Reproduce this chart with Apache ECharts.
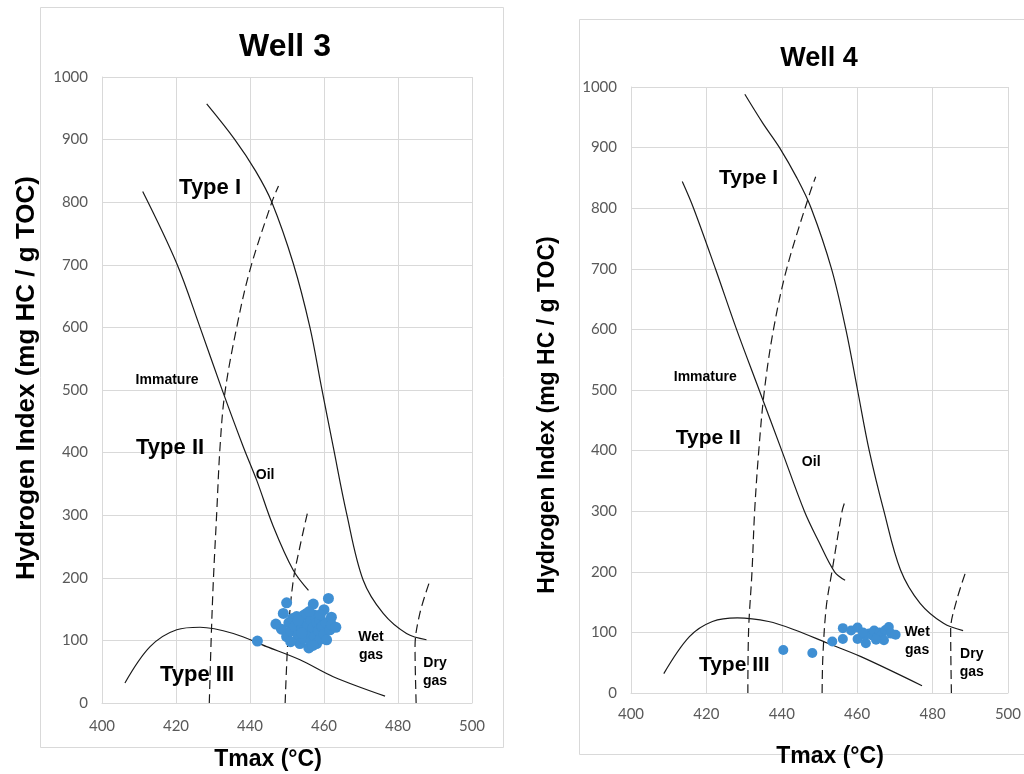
<!DOCTYPE html>
<html><head><meta charset="utf-8">
<script src="https://cdn.jsdelivr.net/npm/echarts@6/dist/echarts.min.js"></script>
<style>html,body{margin:0;background:#fff}#c{width:1024px;height:774px}</style>
</head><body><div id="c"></div>
<script>
// Well 3 curves (Tmax, HI)
const w3TypeI=[[428.3,957],[435.9,900],[441.5,850],[445.9,800],[451.7,702],[456.2,600],[459.3,505],[462.5,409],[466.1,303],[470.6,196],[476,143],[482.3,111],[487.7,101]];
const w3TypeII=[[411,817],[420.2,702],[426.5,600],[432.3,503],[438.2,409],[441.8,356],[446.3,282],[451.7,212],[455.8,180]];
const w3TypeIII=[[406.2,32],[413,90],[420.2,117],[426.5,121],[435.5,111],[444.5,90],[453.5,69],[462.5,42],[476.5,11]];
const w3Oil=[[429,0],[429.5,101],[430.1,196],[431,303],[431.9,409],[433.2,495],[436.4,600],[440,692],[445.9,800],[447.7,826]];
const w3Wet=[[449.5,0],[450.4,117],[451.7,196],[453.5,250],[455.5,303]];
const w3Dry=[[484.9,0],[484.6,90],[485.9,143],[488.6,195]];
const w3Samples=[[442,99],[447,126],[448.5,118],[449,143],[449.9,160],[449.9,106],[450.5,128],[451,115],[451.5,135],[452,122],[452.6,138],[453,108],[453.5,95],[453.5,128],[454,118],[454.5,140],[454.5,103],[455.3,143],[455.5,125],[455.9,88],[456,112],[456.5,132],[456.5,98],[457.1,158],[457,120],[457.5,140],[457.5,106],[458,95],[458,128],[458.5,115],[458.9,133],[459,102],[459.5,122],[460,149],[460,110],[460.7,101],[460.5,128],[461.2,167],[461.6,117],[462,137],[462,125],[463.2,121],[451,98],[453,132],[456,146],[459,141],[454,112],[457,92]];
const w3TypeLabels=[[429.2,823,'Type I'],[418.4,407,'Type II'],[425.7,45,'Type III']];
const w3ZoneLabels=[[417.6,516,'Immature'],[444.1,364,'Oil'],[472.7,91,'Wet\ngas'],[490,50,'Dry\ngas']];

// Well 4 curves
const w4TypeI=[[430.2,988],[435,940],[439.4,900],[444,850],[447.8,800],[453.2,700],[457,600],[460.1,500],[463.2,400],[467.1,300],[471.5,203],[476.7,148],[482.9,115],[488.1,103]];
const w4TypeII=[[413.6,844],[416.6,800],[422.4,700],[428,600],[434,500],[440,400],[446,300],[449.8,250],[454,200],[456.8,186]];
const w4TypeIII=[[408.7,32],[415.5,93],[421.6,118],[428.2,124],[436.5,118],[443.5,104],[452.2,82],[461,60],[477.2,12]];
const w4Oil=[[431,0],[431.2,104],[432.1,200],[432.8,300],[433.9,400],[435.4,500],[437.8,600],[441.3,700],[447.4,824],[449,852]];
const w4Wet=[[450.7,0],[450.9,60],[451.8,142],[453.3,200],[456,300],[456.6,313]];
const w4Dry=[[485,0],[484.8,104],[486.4,153],[488.8,200]];
const w4Samples=[[440.4,71],[448.1,66],[453.4,85],[456.2,89],[456.2,107],[458.4,103],[460.1,108],[460.1,89],[462.3,82],[463.2,98],[464,95],[464.5,103],[465.3,92],[466,100],[466.5,96],[467.1,87],[467.5,104],[468.4,109],[469,98],[470.2,96],[462,95],[461.5,100],[465,88]];
const w4TypeLabels=[[431.2,850,'Type I'],[420.5,421,'Type II'],[427.4,46,'Type III']];
const w4ZoneLabels=[[419.7,521,'Immature'],[447.8,381,'Oil'],[475.9,86,'Wet\ngas'],[490.4,49,'Dry\ngas']];

const grid='#d9d9d9', ink='#1a1a1a', dot='#3f8fd3';
const font=s=>'bold '+s+'px "Liberation Sans", Arial, sans-serif';

function axes(i,labMargin){
  const lab={color:'#595959',fontSize:15,fontFamily:'Lato, "Open Sans", sans-serif'};
  return {
    x:{type:'value',gridIndex:i,min:400,max:500,interval:20,
      axisLine:{show:true,lineStyle:{color:grid}},axisTick:{show:false},
      splitLine:{show:true,lineStyle:{color:grid,width:1}},
      axisLabel:{...lab,margin:labMargin,formatter:v=>String(v)}},
    y:{type:'value',gridIndex:i,min:0,max:1000,interval:100,
      axisLine:{show:true,lineStyle:{color:grid}},axisTick:{show:false},
      splitLine:{show:true,lineStyle:{color:grid,width:1}},
      axisLabel:{...lab,margin:14,formatter:v=>String(v)}}
  };
}
const a3=axes(0,16), a4=axes(1,14);

function curve(i,data,dashed){
  return {type:'line',xAxisIndex:i,yAxisIndex:i,data,smooth:0.35,showSymbol:false,silent:true,
    lineStyle:{color:ink,width:1.2,type:dashed?[9,5]:'solid'},z:3};
}
function samples(i,data,size){
  return {type:'scatter',xAxisIndex:i,yAxisIndex:i,data,symbolSize:size,silent:true,
    itemStyle:{color:dot,opacity:1},z:4};
}
function labels(i,rows,size,lh){
  return {type:'scatter',xAxisIndex:i,yAxisIndex:i,symbolSize:0,silent:true,z:6,
    itemStyle:{opacity:1},
    data:rows.map(r=>({value:[r[0],r[1]],name:r[2]})),
    label:{show:true,position:[0,0],align:'center',verticalAlign:'middle',formatter:p=>p.name,
      color:'#000',opacity:1,textBorderWidth:0,
      fontFamily:'"Liberation Sans", Arial, sans-serif',fontWeight:'bold',fontSize:size,lineHeight:lh}};
}

const chart=echarts.init(document.getElementById('c'),null,{renderer:'canvas'});
chart.setOption({
  backgroundColor:'#fff',
  animation:false,
  grid:[{left:102,top:77,width:370,height:626},{left:631,top:87,width:381,height:606}],
  xAxis:[a3.x,a4.x],
  yAxis:[a3.y,a4.y],
  series:[
    curve(0,w3TypeI),curve(0,w3TypeII),curve(0,w3TypeIII),
    curve(0,w3Oil,true),curve(0,w3Wet,true),curve(0,w3Dry,true),
    samples(0,w3Samples,11),
    labels(0,w3TypeLabels,22,24),labels(0,w3ZoneLabels,14,18),
    curve(1,w4TypeI),curve(1,w4TypeII),curve(1,w4TypeIII),
    curve(1,w4Oil,true),curve(1,w4Wet,true),curve(1,w4Dry,true),
    samples(1,w4Samples,10),
    labels(1,w4TypeLabels,21,24),labels(1,w4ZoneLabels,14,18)
  ],
  graphic:[
    {type:'rect',shape:{x:40.5,y:7.5,width:463,height:740},style:{fill:null,stroke:grid,lineWidth:1},silent:true,z:-1},
    {type:'rect',shape:{x:579.5,y:19.5,width:470,height:735},style:{fill:null,stroke:grid,lineWidth:1},silent:true,z:-1},
    {type:'text',x:285,y:47,style:{text:'Well 3',font:font(32),fill:'#000',align:'center',verticalAlign:'middle'}},
    {type:'text',x:819,y:59,style:{text:'Well 4',font:font(27),fill:'#000',align:'center',verticalAlign:'middle'}},
    {type:'text',x:27,y:378,rotation:Math.PI/2,style:{text:'Hydrogen Index (mg HC / g TOC)',font:font(26),fill:'#000',align:'center',verticalAlign:'middle'}},
    {type:'text',x:548,y:415,rotation:Math.PI/2,style:{text:'Hydrogen Index (mg HC / g TOC)',font:font(23),fill:'#000',align:'center',verticalAlign:'middle'}},
    {type:'text',x:268,y:760,style:{text:'Tmax (°C)',font:font(23),fill:'#000',align:'center',verticalAlign:'middle'}},
    {type:'text',x:830,y:757,style:{text:'Tmax (°C)',font:font(23),fill:'#000',align:'center',verticalAlign:'middle'}}
  ]
});
</script></body></html>
